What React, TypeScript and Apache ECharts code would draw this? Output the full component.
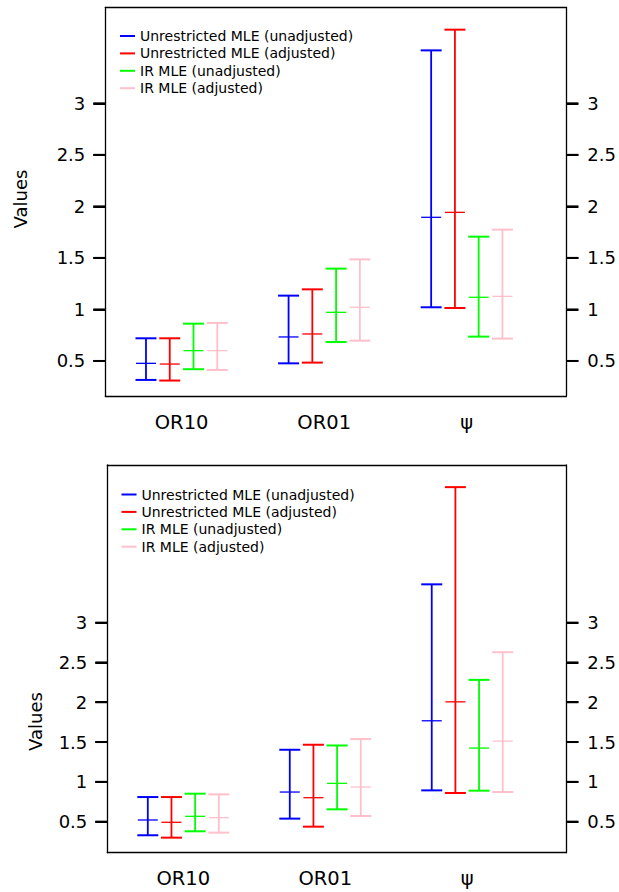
import React, { useEffect, useRef } from "react";
import * as echarts from "echarts";

// ---- data ----
const categories = ["OR10", "OR01", "\u03c8"];
const categoryCenters = [2.5, 8.5, 14.5];
const groupStarts = [1, 7, 13];
const methodNames = [
  "Unrestricted MLE (unadjusted)",
  "Unrestricted MLE (adjusted)",
  "IR MLE (unadjusted)",
  "IR MLE (adjusted)",
];
const methodColors = ["#0000FF", "#FF0000", "#00FF00", "#FFC0CB"];
const yTickValues = [0.5, 1, 1.5, 2, 2.5, 3];

// top panel (per method: values for OR10, OR01, psi)
const topLow = [
  [0.316, 0.477, 1.021],
  [0.31, 0.484, 1.014],
  [0.42, 0.684, 0.736],
  [0.413, 0.697, 0.717],
];
const topMid = [
  [0.477, 0.733, 1.894],
  [0.47, 0.762, 1.942],
  [0.6, 0.972, 1.118],
  [0.6, 1.021, 1.127],
];
const topHigh = [
  [0.72, 1.134, 3.514],
  [0.72, 1.195, 3.715],
  [0.862, 1.396, 1.706],
  [0.869, 1.486, 1.774],
];

// bottom panel
const botLow = [
  [0.329, 0.538, 0.893],
  [0.299, 0.437, 0.86],
  [0.379, 0.655, 0.889],
  [0.362, 0.571, 0.872],
];
const botMid = [
  [0.521, 0.872, 1.767],
  [0.492, 0.801, 2.005],
  [0.567, 0.981, 1.424],
  [0.55, 0.935, 1.512],
];
const botHigh = [
  [0.809, 1.403, 3.481],
  [0.809, 1.466, 4.702],
  [0.851, 1.457, 2.281],
  [0.843, 1.537, 2.628],
];

const FONT = "DejaVu Sans";
const TICK_LEN = 12;
const X_MIN = -0.712;
const X_MAX = 18.69;

const renderItem = (params: any, api: any) => {
  const x = api.value(0);
  const lo = api.coord([x, api.value(1)]);
  const md = api.coord([x, api.value(2)]);
  const hi = api.coord([x, api.value(3)]);
  const color = api.visual("color");
  const cap = 10.5;
  const mh = 10;
  return {
    type: "group",
    children: [
      { type: "line", shape: { x1: lo[0], y1: lo[1], x2: hi[0], y2: hi[1] }, style: { stroke: color, lineWidth: 1.8 } },
      { type: "line", shape: { x1: hi[0] - cap, y1: hi[1], x2: hi[0] + cap, y2: hi[1] }, style: { stroke: color, lineWidth: 2 } },
      { type: "line", shape: { x1: lo[0] - cap, y1: lo[1], x2: lo[0] + cap, y2: lo[1] }, style: { stroke: color, lineWidth: 2 } },
      { type: "line", shape: { x1: md[0] - mh, y1: md[1], x2: md[0] + mh, y2: md[1] }, style: { stroke: color, lineWidth: 1.3 } },
    ],
  };
};

function buildSeries(panel: number, low: number[][], mid: number[][], high: number[][]) {
  return methodNames.map((name, m) => ({
    name,
    type: "custom",
    xAxisIndex: panel * 2,
    yAxisIndex: panel * 2,
    itemStyle: { color: methodColors[m] },
    renderItem,
    encode: { x: 0, y: [1, 2, 3] },
    data: groupStarts.map((g, c) => [g + m, low[m][c], mid[m][c], high[m][c]]),
  }));
}

const lineStyle = { color: "#000", width: 1.3 };
const tickLineStyle = { color: "#000", width: 2 };

function yAxis(gridIndex: number, min: number, max: number, position: string, margin: number) {
  return {
    gridIndex,
    type: "value",
    position,
    min,
    max,
    splitLine: { show: false },
    axisLine: { show: true, onZero: false, lineStyle },
    axisTick: { show: true, length: TICK_LEN, customValues: yTickValues, lineStyle: tickLineStyle },
    axisLabel: { customValues: yTickValues, fontSize: 18, color: "#000", margin, fontFamily: FONT },
  };
}

function xAxes(gridIndex: number) {
  return [
    {
      gridIndex,
      type: "value",
      position: "bottom",
      min: X_MIN,
      max: X_MAX,
      splitLine: { show: false },
      axisLine: { show: true, onZero: false, lineStyle },
      axisTick: { show: false },
      axisLabel: {
        customValues: categoryCenters,
        fontSize: 19.5,
        color: "#000",
        margin: 16,
        fontFamily: FONT,
        formatter: (v: number) => {
          const i = categoryCenters.findIndex((c) => Math.abs(c - v) < 1e-6);
          return i >= 0 ? categories[i] : "";
        },
      },
    },
    {
      gridIndex,
      type: "value",
      position: "top",
      min: X_MIN,
      max: X_MAX,
      splitLine: { show: false },
      axisLine: { show: true, onZero: false, lineStyle },
      axisTick: { show: false },
      axisLabel: { show: false },
    },
  ];
}

function legend(left: number, top: number) {
  return {
    orient: "vertical",
    left,
    top,
    padding: 0,
    itemGap: 3.4,
    itemWidth: 15,
    itemHeight: 2,
    icon: "rect",
    selectedMode: false,
    textStyle: { fontSize: 14, color: "#000", fontFamily: FONT },
    data: methodNames.map((n, i) => ({ name: n, itemStyle: { color: methodColors[i] } })),
  };
}

const titles = [
  { id: "ylab0", type: "text", x: 20.5, y: 199, rotation: Math.PI / 2, style: { text: "Values", fontSize: 18, fill: "#000", fontFamily: FONT, align: "center", verticalAlign: "middle" } },
  { id: "ylab1", type: "text", x: 35, y: 721.5, rotation: Math.PI / 2, style: { text: "Values", fontSize: 18, fill: "#000", fontFamily: FONT, align: "center", verticalAlign: "middle" } },
];

export default function App() {
  const ref = useRef<HTMLDivElement>(null);
  useEffect(() => {
    document.body.style.margin = "0";
    if (!ref.current) return;
    const chart = echarts.init(ref.current, undefined, { renderer: "svg" });
    chart.setOption({
      animation: false,
      grid: [
        { left: 105.3, right: 619 - 566.5, top: 7.5, height: 388.5 },
        { left: 107.3, right: 619 - 568.5, top: 465, height: 387.7 },
      ],
      xAxis: [...xAxes(0), ...xAxes(1)],
      yAxis: [
        yAxis(0, 0.16, 3.93, "left", 20),
        yAxis(0, 0.16, 3.93, "right", 21),
        yAxis(1, 0.11, 4.98, "left", 20),
        yAxis(1, 0.11, 4.98, "right", 21),
      ],
      legend: [legend(120, 29), legend(121.5, 487.5)],
      graphic: titles,
      series: [...buildSeries(0, topLow, topMid, topHigh), ...buildSeries(1, botLow, botMid, botHigh)],
    });
    // tick marks positioned through the axes' own scales
    const tickEls: any[] = [];
    [0, 1].forEach((p) => {
      const xl = Number(chart.convertToPixel({ xAxisIndex: p * 2 } as any, X_MIN));
      const xr = Number(chart.convertToPixel({ xAxisIndex: p * 2 } as any, X_MAX));
      yTickValues.forEach((v, k) => {
        const y = Number(chart.convertToPixel({ yAxisIndex: p * 2 } as any, v));
        if (!isFinite(xl) || !isFinite(xr) || !isFinite(y)) return;
        tickEls.push({ id: `tl${p}_${k}`, type: "line", z: 50, shape: { x1: xl - TICK_LEN, y1: y, x2: xl, y2: y }, style: { stroke: "#000", lineWidth: 2 } });
        tickEls.push({ id: `tr${p}_${k}`, type: "line", z: 50, shape: { x1: xr, y1: y, x2: xr + TICK_LEN, y2: y }, style: { stroke: "#000", lineWidth: 2 } });
      });
    });
    chart.setOption({ graphic: [...titles, ...tickEls] });
    return () => chart.dispose();
  }, []);
  return <div ref={ref} style={{ position: "absolute", left: 0, top: 0, width: 619, height: 892 }} />;
}
